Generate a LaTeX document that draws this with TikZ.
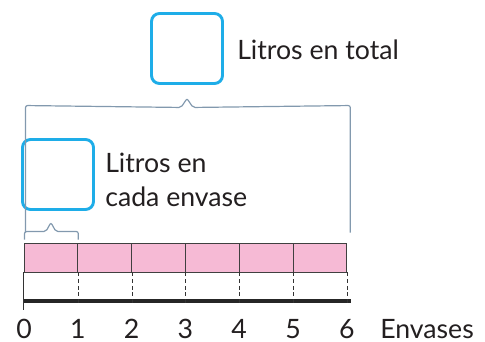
\documentclass[tikz,border=0pt]{standalone}
\usepackage{fontspec}
\setmainfont{Lato}
\usetikzlibrary{positioning,calc}
\definecolor{cajaAzul}{HTML}{1EADE8}
\definecolor{llaveGris}{HTML}{8299AE}
\definecolor{barraRosa}{HTML}{F6BAD5}
\definecolor{textoOscuro}{HTML}{231F20}
\tikzset{
  caja/.style={draw=cajaAzul, line width=2.2pt, rounded corners=6pt, minimum width=53.25pt, minimum height=52.5pt, inner sep=0pt},
  texto/.style={text=textoOscuro, font=\fontsize{20}{24}\selectfont, inner sep=0pt},
  llave/.style={draw=llaveGris, line width=0.9pt, rounded corners=1.5pt},
  celda/.style={draw=black!75, fill=barraRosa, line width=0.7pt, minimum width=40.35pt, minimum height=21.75pt, inner sep=0pt},
  marca/.style={draw=black!80, line width=0.7pt, dash pattern=on 3pt off 2pt},
  eje/.style={draw=black!85, line width=3pt},
}
\begin{document}
\begin{tikzpicture}[x=0.75pt, y=-0.75pt]
\useasboundingbox (0,0) rectangle (485,342);
% Cajas para escribir
\node[caja] (cajaTotal) at (187,48.5) {};
\node[caja] (cajaEnvase) at (58,174.5) {};
\node[texto, anchor=base west] (tTotal) at (237,60) {Litros en total};
\node[texto, anchor=base west] (tEnvase1) at (105,172) {Litros en};
\node[texto, anchor=base west] (tEnvase2) at (105,206) {cada envase};

% Barra de envases
\foreach \i in {1,...,6}
  \node[celda] (c\i) at ({24+53.8*(\i-0.5)},257.5) {};

% Recta numerica
\coordinate (ejeIzq) at (24,301);
\coordinate (ejeDer) at (351,301);
\draw[eje] (ejeIzq) -- (ejeDer);
\draw[draw=black!80, line width=0.7pt] (c1.south west) -- ++(0,38);
\foreach \i in {1,...,6}
  \draw[marca] (c\i.south east) -- ++(0,33);
\foreach \i in {0,...,6}
  \node[texto, anchor=base] (n\i) at ({24+53.8*\i},338) {\i};
\node[texto, anchor=base west] (tEje) at (380,338) {Envases};

% Llaves
\draw[llave] ($(c1.north west)+(2,-10)$) -- ($(c1.north west)+(2,-137)$)
  -- ($(cajaTotal.south)+(-6,22.5)$) -- ($(cajaTotal.south)+(0,13.5)$) -- ($(cajaTotal.south)+(6,22.5)$)
  -- ($(c6.north east)+(3,-137)$) -- ($(c6.north east)+(3,-10)$);
\draw[llave] ($(c1.north west)+(1,-3)$) -- ($(c1.north west)+(1,-11)$)
  -- ($(c1.north)+(-5,-11)$) -- ($(c1.north)+(0,-20)$) -- ($(c1.north)+(5,-11)$)
  -- ($(c1.north east)+(0,-11)$) -- ($(c1.north east)+(0,-3)$);
\end{tikzpicture}
\end{document}
